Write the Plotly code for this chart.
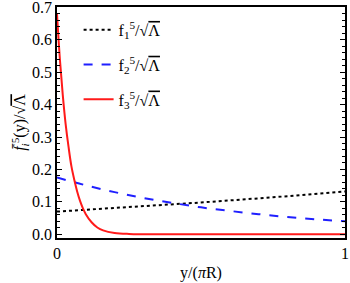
import plotly.graph_objects as go

# Data
x_red = [0, 0.01, 0.02, 0.03, 0.04, 0.05, 0.06, 0.07, 0.08, 0.09, 0.10, 0.12, 0.14, 0.16, 0.20, 0.25, 0.30, 0.5, 1.0]
f3 = [0.68, 0.54, 0.43, 0.34, 0.27, 0.21, 0.168, 0.132, 0.103, 0.080, 0.062, 0.037, 0.021, 0.012, 0.004, 0.001, 0.0003, 0.0, 0.0]

x_blk = [0, 0.25, 0.5, 0.75, 1.0]
f1 = [0.070, 0.083, 0.098, 0.114, 0.132]

x_blu = [0, 0.1, 0.2, 0.3, 0.4, 0.5, 0.6, 0.7, 0.8, 0.9, 1.0]
f2 = [0.175, 0.151, 0.130, 0.112, 0.097, 0.083, 0.072, 0.062, 0.053, 0.046, 0.040]

OV = "<span style='text-decoration:overline'>Λ</span>"
names = ["f<sub>1</sub><sup>5</sup>/√" + OV, "f<sub>2</sub><sup>5</sup>/√" + OV, "f<sub>3</sub><sup>5</sup>/√" + OV]
xticks = [0, 1]
xticklabels = ["0", "1"]

FONT = "Liberation Serif"

fig = go.Figure()
fig.add_trace(go.Scatter(x=x_blk, y=f1, mode="lines", name=names[0], legendgroup="a",
                         line=dict(color="black", width=2, dash="dot")))
fig.add_trace(go.Scatter(x=x_blu, y=f2, mode="lines", name=names[1], legendgroup="b",
                         line=dict(color="#1f1fff", width=2, dash="dash"), line_shape="spline"))
fig.add_trace(go.Scatter(x=x_red, y=f3, mode="lines", name=names[2], legendgroup="c",
                         line=dict(color="#ff1a1a", width=2), line_shape="spline"))

fig.update_layout(
    width=350, height=283,
    margin=dict(l=57, r=5, t=7, b=45, autoexpand=False),
    paper_bgcolor="white", plot_bgcolor="white",
    font=dict(family=FONT, size=16, color="black"),
    legend=dict(x=0.075, y=0.975, xanchor="left", yanchor="top",
                bgcolor="rgba(0,0,0,0)", font=dict(family=FONT, size=16),
                tracegroupgap=11, itemwidth=30),
    showlegend=True,
)
fig.update_xaxes(range=[0, 1], tickvals=xticks, ticktext=xticklabels, ticks="", ticklen=0,
                 showline=True, linecolor="black", linewidth=1.5, mirror=True,
                 showgrid=False, zeroline=False, automargin=False, ticklabeloverflow="allow",
                 title=dict(text="y/(<i>π</i>R)", font=dict(family=FONT, size=16), standoff=6),
                 tickfont=dict(family=FONT, size=16))
fig.update_yaxes(range=[-0.0115, 0.701], dtick=0.1, tickformat=".1f",
                 ticks="inside", ticklen=5, tickwidth=1, tickcolor="black",
                 minor=dict(dtick=0.02, ticks="inside", ticklen=3, tickcolor="black"),
                 showline=True, linecolor="black", linewidth=1.5, mirror="ticks",
                 showgrid=False, zeroline=False, automargin=False, ticklabeloverflow="allow",
                 title=dict(text="<i>f̄</i><sub><i>i</i></sub><sup>5</sup>(y)/√" + OV, font=dict(family=FONT, size=16), standoff=2),
                 tickfont=dict(family=FONT, size=16))

fig.write_html("out.html", config={"displayModeBar": False},
               post_script="document.body.style.margin='0';")
